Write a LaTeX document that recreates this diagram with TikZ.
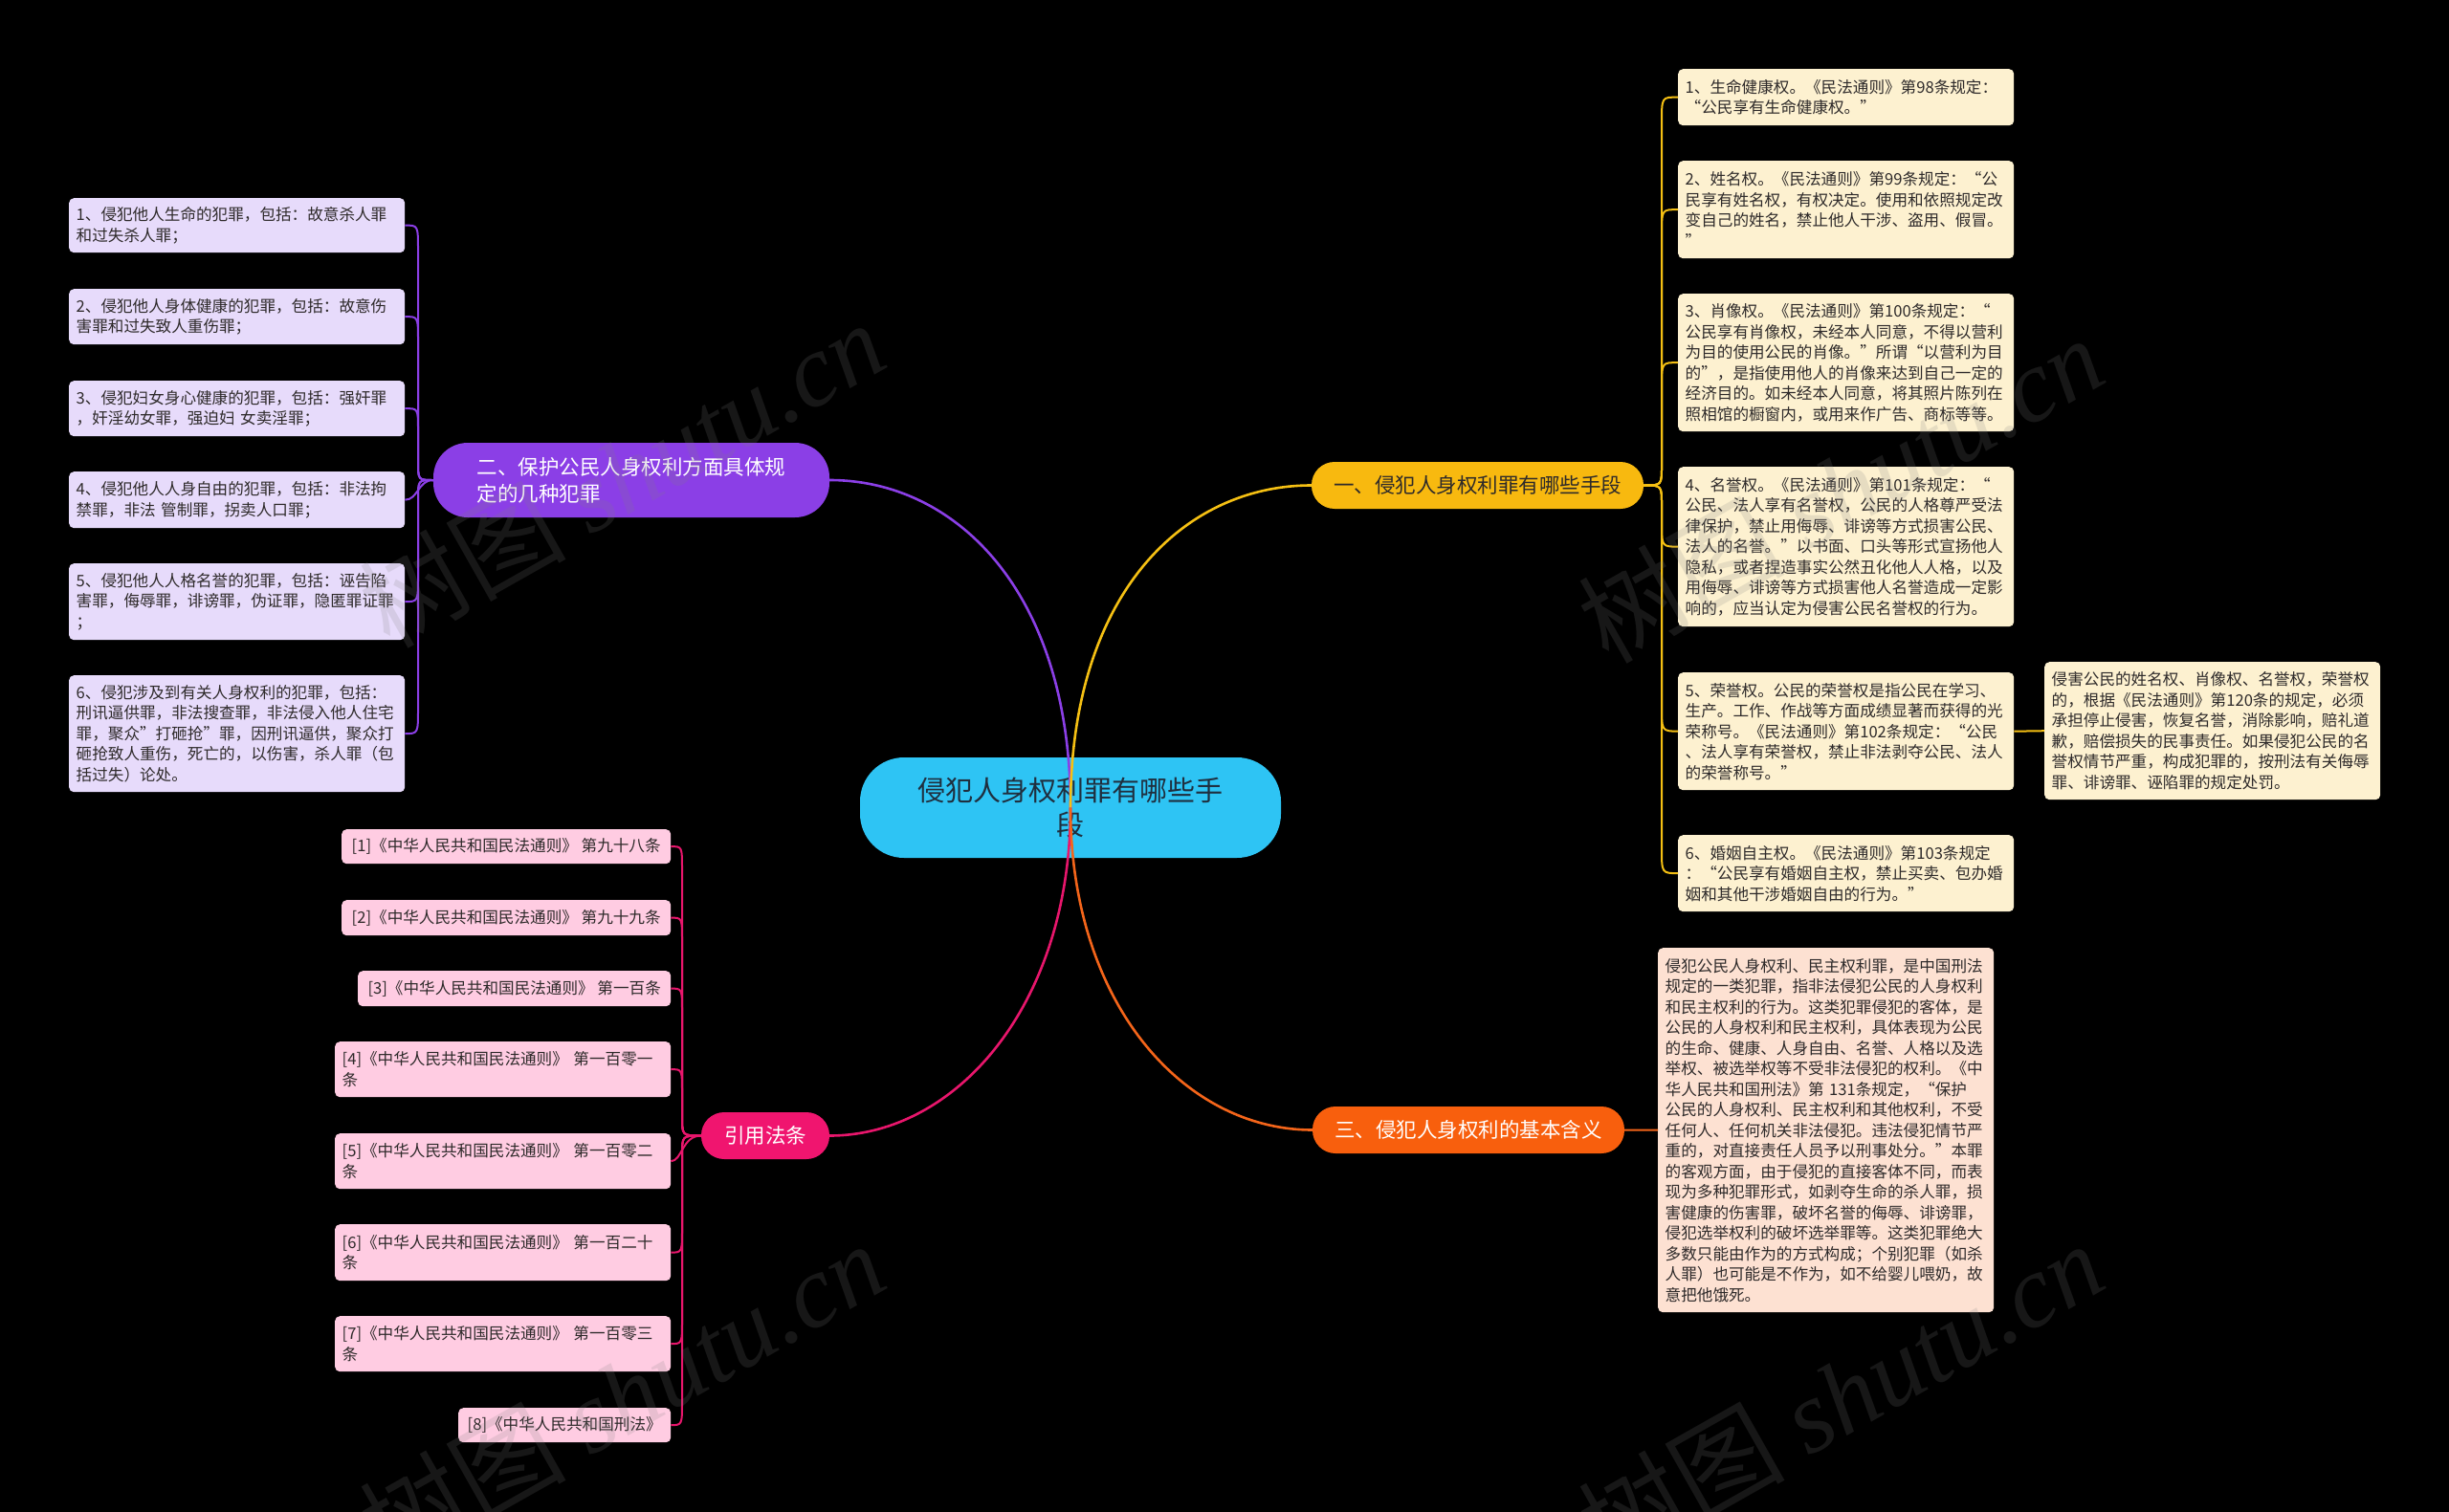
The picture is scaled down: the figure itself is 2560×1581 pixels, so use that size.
\documentclass[tikz,border=0pt]{standalone}
\usepackage{fontspec}
\setmainfont{Noto Sans CJK SC}
\newfontfamily\wmlatin{Liberation Serif}
\definecolor{bgc}{HTML}{000000}
\definecolor{cenc}{HTML}{2EC4F4}
\definecolor{cent}{HTML}{1F2F3F}
\definecolor{purc}{HTML}{8B3FE6}
\definecolor{yelc}{HTML}{F8B90F}
\definecolor{yell}{HTML}{F5C013}
\definecolor{orac}{HTML}{F85F0D}
\definecolor{oral}{HTML}{F4651A}
\definecolor{pinc}{HTML}{F0156F}
\definecolor{pinl}{HTML}{E8166C}
\definecolor{pleafc}{HTML}{E7DBFB}
\definecolor{yleafc}{HTML}{FDF1D0}
\definecolor{oleafc}{HTML}{FDE1D2}
\definecolor{rleafc}{HTML}{FFCCE2}
\definecolor{leaft}{HTML}{2E2A2A}
\begin{document}
\begin{tikzpicture}[x=1pt,y=-1pt,
  leafbase/.style={anchor=north west, rounded corners=5pt, inner ysep=0pt,
    font=\fontsize{16.6}{21.5}\selectfont, text=leaft},
  multileaf/.style={leafbase, align=left, text width=336pt, inner xsep=7.5pt},
  pleaf/.style={multileaf, fill=pleafc, minimum height=#1},
  yleaf/.style={multileaf, fill=yleafc, minimum height=#1},
  oleaf/.style={multileaf, fill=oleafc, minimum height=#1},
  rleafm/.style={multileaf, fill=rleafc, minimum height=#1},
  rleafs/.style={leafbase, fill=rleafc, align=center, inner xsep=0pt, minimum height=36pt, minimum width=#1},
  branchbox/.style={rounded corners=24pt, inner sep=0pt, font=\fontsize{21.5}{28}\selectfont},
  conn/.style={line width=2.6pt},
  lconn/.style={line width=2pt},
  wmark/.style={rotate=29.5, text=gray, opacity=0.18, font=\fontsize{108}{108}\selectfont}
]
\fill[bgc] (0,0) rectangle (2560,1581);
\useasboundingbox (0,0) rectangle (2560,1581);

% center
\node[fill=cenc, rounded corners=46pt, minimum width=440pt, minimum height=105pt, inner sep=0pt,
  align=center, text=cent, font=\fontsize{29}{36}\selectfont] (c) at (1119,844.5)
  {侵犯人身权利罪有哪些手\\段};

% branches
\node[branchbox, fill=yelc, text=leaft, minimum width=347pt, minimum height=49pt] (b1) at (1544.5,507.5)
  {一、侵犯人身权利罪有哪些手段};
\node[branchbox, rounded corners=36pt, fill=purc, text=white, minimum width=414pt, minimum height=78pt, align=left] (b2) at (660,502)
  {二、保护公民人身权利方面具体规\\定的几种犯罪};
\node[branchbox, fill=orac, text=white, minimum width=326pt, minimum height=49pt] (b3) at (1535,1181.5)
  {三、侵犯人身权利的基本含义};
\node[branchbox, fill=pinc, text=white, minimum width=134pt, minimum height=49pt] (b4) at (800,1187.5)
  {引用法条};

% purple leaves
\node[pleaf=57pt] (p1) at (72,207) {1、侵犯他人生命的犯罪，包括：故意杀人罪\\和过失杀人罪；};
\node[pleaf=58pt] (p2) at (72,302) {2、侵犯他人身体健康的犯罪，包括：故意伤\\害罪和过失致人重伤罪；};
\node[pleaf=58pt] (p3) at (72,398) {3、侵犯妇女身心健康的犯罪，包括：强奸罪\\，奸淫幼女罪，强迫妇 女卖淫罪；};
\node[pleaf=59pt] (p4) at (72,493) {4、侵犯他人人身自由的犯罪，包括：非法拘\\禁罪，非法 管制罪，拐卖人口罪；};
\node[pleaf=80pt] (p5) at (72,589) {5、侵犯他人人格名誉的犯罪，包括：诬告陷\\害罪，侮辱罪，诽谤罪，伪证罪，隐匿罪证罪\\；};
\node[pleaf=122pt] (p6) at (72,706) {6、侵犯涉及到有关人身权利的犯罪，包括：\\刑讯逼供罪，非法搜查罪，非法侵入他人住宅\\罪，聚众”打砸抢”罪，因刑讯逼供，聚众打\\砸抢致人重伤，死亡的，以伤害，杀人罪（包\\括过失）论处。};

% pink leaves
\node[rleafs=344pt] (r1) at (357,867) {[1]《中华人民共和国民法通则》 第九十八条};
\node[rleafs=344pt, minimum height=37pt] (r2) at (357,941) {[2]《中华人民共和国民法通则》 第九十九条};
\node[rleafs=327pt, minimum height=37pt] (r3) at (374,1015) {[3]《中华人民共和国民法通则》 第一百条};
\node[rleafm=58pt] (r4) at (350,1089) {[4]《中华人民共和国民法通则》 第一百零一\\条};
\node[rleafm=58pt] (r5) at (350,1185) {[5]《中华人民共和国民法通则》 第一百零二\\条};
\node[rleafm=59pt] (r6) at (350,1280) {[6]《中华人民共和国民法通则》 第一百二十\\条};
\node[rleafm=58pt] (r7) at (350,1376) {[7]《中华人民共和国民法通则》 第一百零三\\条};
\node[rleafs=222pt] (r8) at (479,1472) {[8]《中华人民共和国刑法》};

% yellow leaves
\node[yleaf=59pt] (y1) at (1754,72) {1、生命健康权。《民法通则》第98条规定：\\“公民享有生命健康权。”};
\node[yleaf=102pt] (y2) at (1754,168) {2、姓名权。《民法通则》第99条规定：“公\\民享有姓名权，有权决定。使用和依照规定改\\变自己的姓名，禁止他人干涉、盗用、假冒。\\”};
\node[yleaf=144pt] (y3) at (1754,307) {3、肖像权。《民法通则》第100条规定：“\\公民享有肖像权，未经本人同意，不得以营利\\为目的使用公民的肖像。”所谓“以营利为目\\的”，是指使用他人的肖像来达到自己一定的\\经济目的。如未经本人同意，将其照片陈列在\\照相馆的橱窗内，或用来作广告、商标等等。};
\node[yleaf=167pt] (y4) at (1754,488) {4、名誉权。《民法通则》第101条规定：“\\公民、法人享有名誉权，公民的人格尊严受法\\律保护，禁止用侮辱、诽谤等方式损害公民、\\法人的名誉。”以书面、口头等形式宣扬他人\\隐私，或者捏造事实公然丑化他人人格，以及\\用侮辱、诽谤等方式损害他人名誉造成一定影\\响的，应当认定为侵害公民名誉权的行为。};
\node[yleaf=123pt] (y5) at (1754,703) {5、荣誉权。公民的荣誉权是指公民在学习、\\生产。工作、作战等方面成绩显著而获得的光\\荣称号。《民法通则》第102条规定：“公民\\、法人享有荣誉权，禁止非法剥夺公民、法人\\的荣誉称号。”};
\node[yleaf=80pt] (y6) at (1754,873) {6、婚姻自主权。《民法通则》第103条规定\\：“公民享有婚姻自主权，禁止买卖、包办婚\\姻和其他干涉婚姻自由的行为。”};
\node[yleaf=144pt] (y5c) at (2137,692) {侵害公民的姓名权、肖像权、名誉权，荣誉权\\的，根据《民法通则》第120条的规定，必须\\承担停止侵害，恢复名誉，消除影响，赔礼道\\歉，赔偿损失的民事责任。如果侵犯公民的名\\誉权情节严重，构成犯罪的，按刑法有关侮辱\\罪、诽谤罪、诬陷罪的规定处罚。};

% orange leaf
\node[oleaf=381pt] (o1) at (1733,991) {侵犯公民人身权利、民主权利罪，是中国刑法\\规定的一类犯罪，指非法侵犯公民的人身权利\\和民主权利的行为。这类犯罪侵犯的客体，是\\公民的人身权利和民主权利，具体表现为公民\\的生命、健康、人身自由、名誉、人格以及选\\举权、被选举权等不受非法侵犯的权利。《中\\华人民共和国刑法》第 131条规定，“保护\\公民的人身权利、民主权利和其他权利，不受\\任何人、任何机关非法侵犯。违法侵犯情节严\\重的，对直接责任人员予以刑事处分。”本罪\\的客观方面，由于侵犯的直接客体不同，而表\\现为多种犯罪形式，如剥夺生命的杀人罪，损\\害健康的伤害罪，破坏名誉的侮辱、诽谤罪，\\侵犯选举权利的破坏选举罪等。这类犯罪绝大\\多数只能由作为的方式构成；个别犯罪（如杀\\人罪）也可能是不作为，如不给婴儿喂奶，故\\意把他饿死。};

% main connectors
\draw[conn, purc] (b2.east) .. controls (1000,502) and (1119,620) .. (c.center);
\draw[conn, yell] (b1.west) .. controls (1238,507.5) and (1119,620) .. (c.center);
\draw[conn, pinl] (c.center) .. controls (1119,1050) and (1000,1187.5) .. (b4.east);
\draw[conn, oral] (c.center) .. controls (1119,1050) and (1238,1181.5) .. (b3.west);

% purple leaf connectors (trunk x=437)
\begin{scope}[lconn, purc]
\draw (p1.east) .. controls (437,235.5) .. (437,262) -- (437,482) .. controls (437,502) .. (b2.west);
\draw (p2.east) .. controls (437,331) .. (437,357) -- (437,482) .. controls (437,502) .. (b2.west);
\draw (p3.east) .. controls (437,427) .. (437,450) -- (437,482) .. controls (437,502) .. (b2.west);
\draw (b2.west) .. controls (437,502) and (437,522.5) .. (p4.east);
\draw (b2.west) .. controls (437,502) .. (437,522) -- (437,603) .. controls (437,629) .. (p5.east);
\draw (b2.west) .. controls (437,502) .. (437,522) -- (437,741) .. controls (437,767) .. (p6.east);
\end{scope}

% yellow leaf connectors (trunk x=1737)
\begin{scope}[lconn, yell]
\draw (b1.east) .. controls (1737,507.5) .. (1737,487) -- (1737,128) .. controls (1737,101.5) .. (y1.west);
\draw (b1.east) .. controls (1737,507.5) .. (1737,487) -- (1737,245) .. controls (1737,219) .. (y2.west);
\draw (b1.east) .. controls (1737,507.5) .. (1737,487) -- (1737,405) .. controls (1737,379) .. (y3.west);
\draw (b1.east) .. controls (1737,507.5) .. (1737,528) -- (1737,546) .. controls (1737,571.5) .. (y4.west);
\draw (b1.east) .. controls (1737,507.5) .. (1737,528) -- (1737,738) .. controls (1737,764.5) .. (y5.west);
\draw (b1.east) .. controls (1737,507.5) .. (1737,528) -- (1737,887) .. controls (1737,913) .. (y6.west);
\draw (y5.east) -- (y5c.west);
\end{scope}

% orange leaf connector
\draw[lconn, oral] (b3.east) -- (o1.west);

% pink leaf connectors (trunk x=713)
\begin{scope}[lconn, pinl]
\draw (r1.east) .. controls (713,885) .. (713,910) -- (713,1167) .. controls (713,1187.5) .. (b4.west);
\draw (r2.east) .. controls (713,959.5) .. (713,985) -- (713,1167) .. controls (713,1187.5) .. (b4.west);
\draw (r3.east) .. controls (713,1033.5) .. (713,1059) -- (713,1167) .. controls (713,1187.5) .. (b4.west);
\draw (r4.east) .. controls (713,1118) .. (713,1143) -- (713,1167) .. controls (713,1187.5) .. (b4.west);
\draw (b4.west) .. controls (713,1187.5) and (713,1214) .. (r5.east);
\draw (b4.west) .. controls (713,1187.5) .. (713,1208) -- (713,1284) .. controls (713,1309.5) .. (r6.east);
\draw (b4.west) .. controls (713,1187.5) .. (713,1208) -- (713,1380) .. controls (713,1405) .. (r7.east);
\draw (b4.west) .. controls (713,1187.5) .. (713,1208) -- (713,1465) .. controls (713,1490) .. (r8.east);
\end{scope}

% watermarks
\node[wmark] (w1) at (650,495) {树图 {\wmlatin\itshape shutu.cn}};
\node[wmark] (w2) at (1924,511) {树图 {\wmlatin\itshape shutu.cn}};
\node[wmark] (w3) at (650,1458) {树图 {\wmlatin\itshape shutu.cn}};
\node[wmark] (w4) at (1924,1458) {树图 {\wmlatin\itshape shutu.cn}};
\end{tikzpicture}
\end{document}
